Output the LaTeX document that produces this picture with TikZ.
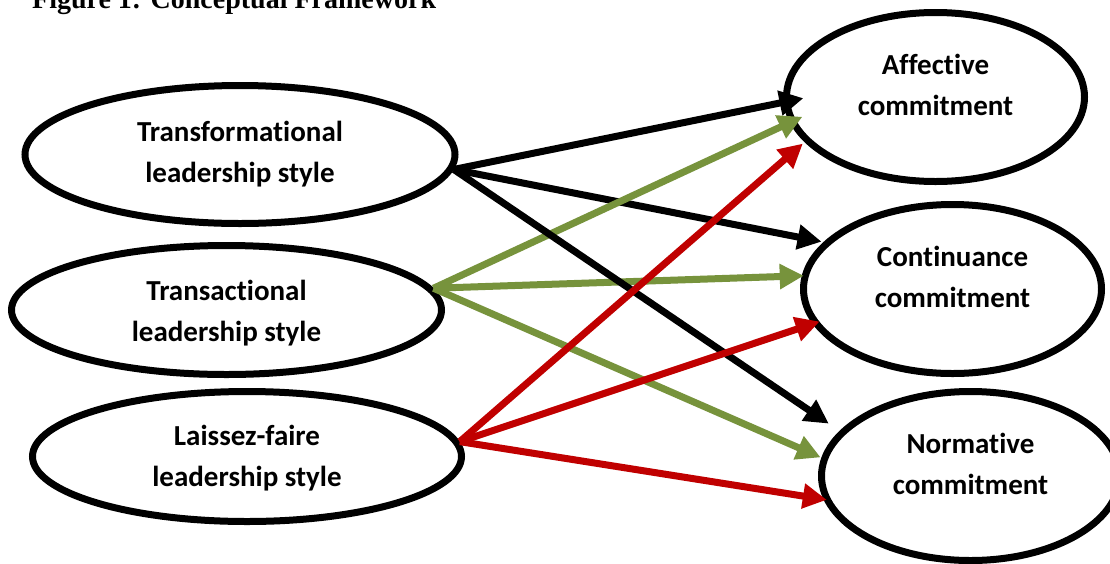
\documentclass[tikz,border=0pt]{standalone}
\usepackage{fontspec}
\setmainfont{Carlito}[RawFeature={-liga}]
\newfontfamily\titlefont{Liberation Serif}
\usetikzlibrary{arrows.meta,shapes.geometric}
\definecolor{oliveg}{HTML}{77933C}
\definecolor{darkred}{HTML}{C00000}
\begin{document}
\begin{tikzpicture}[x=1pt,y=-1pt,
  oval/.style={draw=black, line width=7pt, ellipse, inner sep=0pt},
  lbl/.style={font=\fontsize{29}{41}\selectfont\bfseries, align=center, inner sep=0pt},
  conn/.style={line width=7pt, -{Triangle[length=24pt,width=24pt]}},
]
\useasboundingbox (0,0) rectangle (1110,563);
\fill[white] (0,0) rectangle (1110,563);

\node[font=\titlefont\fontsize{28}{34}\selectfont\bfseries, anchor=base west, inner sep=0pt] (title) at (32,8) {Figure 1: Conceptual Framework};

% left ellipses
\node[oval, minimum width=430pt, minimum height=138pt] (T) at (240,154.5) {};
\node[oval, minimum width=430pt, minimum height=129pt] (S) at (226.5,310) {};
\node[oval, minimum width=429pt, minimum height=130pt] (L) at (247,456.5) {};
% right ellipses
\node[oval, minimum width=298pt, minimum height=169pt] (A) at (935.5,97) {};
\node[oval, minimum width=298pt, minimum height=169pt] (C) at (952.5,289) {};
\node[oval, minimum width=298pt, minimum height=169pt] (N) at (970.5,476) {};

\node[lbl] (tT) at (T.center) {Transformational\\leadership style};
\node[lbl] (tS) at ([yshift=-3pt]S.center) {Transactional\\leadership style};
\node[lbl] (tL) at ([yshift=-2pt]L.center) {Laissez-faire\\leadership style};
\node[lbl] (tA) at ([yshift=12pt]A.center) {Affective\\commitment};
\node[lbl] (tC) at ([yshift=12pt]C.center) {Continuance\\commitment};
\node[lbl] (tN) at ([yshift=12pt]N.center) {Normative\\commitment};

% connectors
\draw[conn, black, shorten >=-20.5pt] (T.-4) -- (A.182.6);
\draw[conn, black, shorten >=2pt] (T.-4) -- (C.160.7);
\draw[conn, oliveg, shorten >=-2pt] (S.6) -- (C.175.8);
\draw[conn, oliveg, shorten >=0.8pt] (S.6) -- (N.173.6);
\draw[conn, oliveg, shorten >=-14pt] (S.6) -- (A.190.9);
\draw[conn, black, shorten >=13pt] (T.-4) -- (N.161.8);
\draw[conn, darkred, shorten >=2.3pt] (L.4) -- (A.199.25);
\draw[conn, darkred, shorten >=-7.5pt] (L.4) -- (C.194.2);
\draw[conn, darkred, shorten >=-3.4pt] (L.4) -- (N.189.1);
\end{tikzpicture}
\end{document}
